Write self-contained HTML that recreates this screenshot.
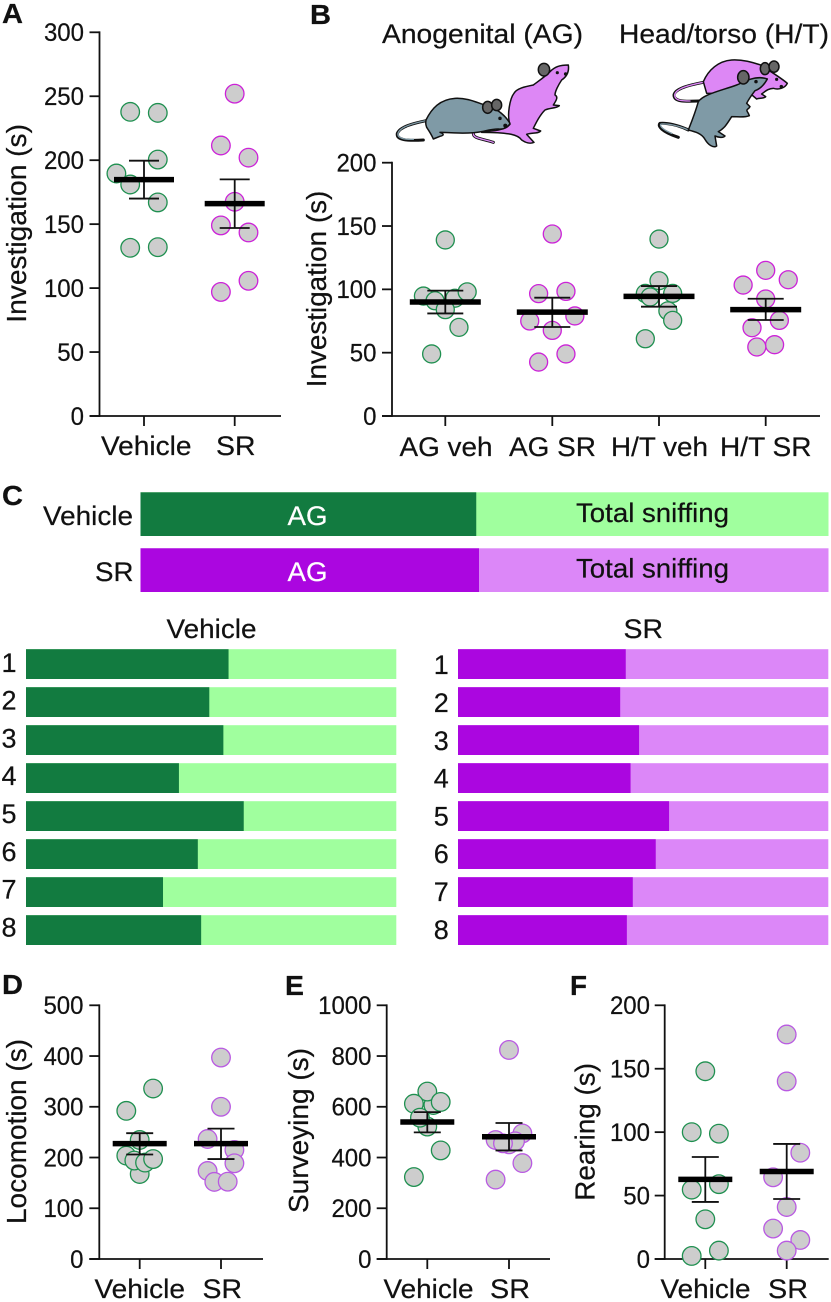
<!DOCTYPE html>
<html lang="en">
<head>
<meta charset="utf-8">
<title>Investigation and behavior panels</title>
<style>
html,body{margin:0;padding:0;background:#fff}
svg{display:block}
text{font-family:"Liberation Sans",Arial,sans-serif;fill:#111;stroke:#111;stroke-width:.22px}
.panel-letter{font-weight:700;font-size:28px}
</style>
</head>
<body>
<svg id="figure" xmlns="http://www.w3.org/2000/svg" width="831" height="1302" viewBox="0 0 831 1302">
  <rect width="831" height="1302" fill="#fff"/>
  <text class="panel-letter" x="2" y="23" textLength="21" lengthAdjust="spacingAndGlyphs">A</text>
  <text class="panel-letter" x="310" y="24" textLength="21" lengthAdjust="spacingAndGlyphs">B</text>
  <text class="panel-letter" x="2" y="505" textLength="21" lengthAdjust="spacingAndGlyphs">C</text>
  <text class="panel-letter" x="2" y="994" textLength="21" lengthAdjust="spacingAndGlyphs">D</text>
  <text class="panel-letter" x="285" y="995" textLength="19" lengthAdjust="spacingAndGlyphs">E</text>
  <text class="panel-letter" x="570" y="995" textLength="17" lengthAdjust="spacingAndGlyphs">F</text>

  <text x="382" y="43" font-size="26.5" textLength="201" lengthAdjust="spacingAndGlyphs">Anogenital (AG)</text>
  <text x="619" y="43" font-size="26.5" textLength="210" lengthAdjust="spacingAndGlyphs">Head/torso (H/T)</text>

  <g transform="translate(390 55) scale(0.3333)" stroke="#111" stroke-width="4.5" stroke-linejoin="round" stroke-linecap="round">
    <path d="M250 236C250 250 272 250 310 262" fill="none" stroke="#111" stroke-width="9"/>
    <path d="M250 236C250 250 272 250 310 262" fill="none" stroke="#dd87f5" stroke-width="4"/>
    <path fill="#dd87f5" d="M275 230C310 228 345 226 360 208C350 180 360 130 372 115C380 100 405 95 430 90C450 75 465 65 480 50C495 35 510 30 535 30C538 50 530 65 515 75C505 90 495 110 495 120C505 125 500 135 490 150L508 152C500 160 480 158 465 165C450 180 440 200 430 220L452 228C445 237 425 232 410 238L432 262C420 268 405 262 395 255C385 240 360 232 275 232Z"/>
    <ellipse cx="462" cy="44" rx="17" ry="19" fill="#666"/>
    <circle cx="502" cy="53" r="2.5" fill="#111"/>
    <circle cx="527" cy="57" r="3" fill="#111"/>
    <path d="M108 197C70 205 30 215 22 235C18 255 50 258 100 255" fill="none" stroke="#111" stroke-width="9"/>
    <path d="M108 197C70 205 30 215 24 235C21 250 45 254 70 253" fill="none" stroke="#7f9aa6" stroke-width="4"/>
    <path fill="#7f9aa6" d="M108 195C125 160 150 133 195 130C235 128 265 145 285 150C320 160 345 180 360 205C355 217 340 224 325 222C305 222 290 227 275 230C240 237 190 234 150 232C165 238 160 242 150 244L130 252C125 240 120 232 110 217C105 205 108 200 108 195Z"/>
    <ellipse cx="293" cy="157" rx="15" ry="18" fill="#666"/>
    <ellipse cx="320" cy="150" rx="15" ry="17" fill="#666"/>
    <circle cx="330" cy="190" r="3" fill="#111"/>
    <circle cx="346" cy="212" r="4" fill="#111"/>
  </g>

  <g transform="translate(650 50) scale(0.3333)" stroke="#111" stroke-width="4.5" stroke-linejoin="round" stroke-linecap="round">
    <path d="M160 97C120 105 75 115 72 135C72 155 100 155 148 153" fill="none" stroke="#111" stroke-width="9"/>
    <path d="M160 97C120 105 77 115 74 135C74 152 95 153 120 153" fill="none" stroke="#dd87f5" stroke-width="4"/>
    <path fill="#dd87f5" d="M160 95C175 60 205 33 245 30C280 28 310 38 332 45C370 70 395 85 412 100C405 115 385 120 370 115C355 115 345 125 335 132L347 140C340 147 328 143 320 147L300 130L170 130Z"/>
    <ellipse cx="345" cy="56" rx="14" ry="18" fill="#666"/>
    <ellipse cx="372" cy="50" rx="15" ry="17" fill="#666"/>
    <circle cx="380" cy="88" r="2.5" fill="#111"/>
    <circle cx="394" cy="110" r="3" fill="#111"/>
    <path d="M115 240C85 225 50 218 30 220C22 228 35 245 85 262" fill="none" stroke="#111" stroke-width="9"/>
    <path d="M115 240C85 226 50 220 33 222C27 228 40 240 65 250" fill="none" stroke="#7f9aa6" stroke-width="4"/>
    <path fill="#7f9aa6" d="M145 155C160 133 210 123 260 105C275 100 280 92 300 88C320 82 340 82 352 87C345 100 335 115 315 122C305 135 295 150 290 160L300 170C295 180 285 175 295 190L298 197C285 203 265 200 245 200C235 215 225 235 205 245L225 258C220 265 205 262 195 258L200 288C190 295 175 285 165 268C155 250 135 245 115 240C125 215 135 190 145 155Z"/>
    <ellipse cx="280" cy="82" rx="17" ry="20" fill="#666"/>
    <circle cx="318" cy="95" r="3" fill="#111"/>
  </g>

  <g id="charts"></g>
  <g id="stacked"></g>
</svg>

<script>
// Panel A
const panelACategories = ['Vehicle', 'SR'];
const panelATicks = [0, 50, 100, 150, 200, 250, 300];
const panelAVehicle = [237.8, 237, 189.6, 200.5, 181, 167, 131.5, 132];
const panelASR = [252, 211.5, 202, 167.5, 149, 143.5, 105.7, 97];
const panelAVehicleSlots = [-1, 1, -2, 1, -1, 1, -1, 1];
const panelASRSlots = [0, -1, 1, 0, -1, 1, 1, -1];
const panelAMeans = [184.8, 166];
const panelALow = [170, 147];
const panelAHigh = [199.6, 185];

// Panel B
const panelBCategories = ['AG veh', 'AG SR', 'H/T veh', 'H/T SR'];
const panelBTicks = [0, 50, 100, 150, 200];
const panelBAgVeh = [139, 94.7, 91, 93, 98, 84, 70, 49];
const panelBAgSR = [143.7, 96.6, 98.4, 79, 75, 67.6, 49, 42.6];
const panelBHtVeh = [139.7, 106.8, 96.8, 96.8, 94, 83, 75.5, 61];
const panelBHtSR = [115, 107.6, 103.4, 92.4, 75.5, 69.7, 56.3, 54.5];
const panelBAgVehSlots = [0, -1.6, -0.75, 0.7, 1.6, 0, 1, -1];
const panelBAgSRSlots = [0, -1, 1, 1.65, -1.65, 0, 1, -1];
const panelBHtVehSlots = [0, 0, -1, 1, -0.65, 0.65, 1, -1];
const panelBHtSRSlots = [0, 1.65, -1.65, 0, 1, -1, 0.65, -0.65];
const panelBMeans = [90, 82, 94.5, 84];
const panelBLow = [81, 70.3, 86.3, 75.8];
const panelBHigh = [99, 93.4, 102.6, 92.6];

// Panel D
const panelDCategories = ['Vehicle', 'SR'];
const panelDTicks = [0, 100, 200, 300, 400, 500];
const panelDVehicle = [336, 292, 234.6, 203.7, 167.5, 194, 190, 197];
const panelDSR = [397, 300, 236.5, 215, 188.6, 173.5, 152, 152.4];
const panelDVehicleSlots = [1, -1, 0, -1, 0, -0.4, 0.4, 1];
const panelDSRSlots = [0, 0, -1, 1, 1, -1, -0.5, 0.5];
const panelDMeans = [227.5, 227.5];
const panelDLow = [206, 197];
const panelDHigh = [248, 257];

// Panel E
const panelECategories = ['Vehicle', 'SR'];
const panelETicks = [0, 200, 400, 600, 800, 1000];
const panelEVehicle = [607, 660, 612, 619, 522, 557, 428, 323];
const panelESR = [824, 495, 469, 452, 464, 456, 378, 313];
const panelEVehicleSlots = [0.45, 0, -1, 1, 0, -0.55, 1, -1];
const panelESRSlots = [0, 1, -1, 0, 0.45, -0.45, 1, -1];
const panelEMeans = [540, 482];
const panelELow = [499, 428];
const panelEHigh = [579, 536];

// Panel F
const panelFCategories = ['Vehicle', 'SR'];
const panelFTicks = [0, 50, 100, 150, 200];
const panelFVehicle = [148, 100, 98.8, 59, 54.7, 31.3, 6.6, 2.4];
const panelFSR = [177, 140, 83.8, 64.4, 41, 24, 15, 6.6];
const panelFVehicleSlots = [0, -1, 1, 1, -1, 0, 1, -1];
const panelFSRSlots = [0, 0, 1, -1, 0, -1, 1, 0];
const panelFMeans = [62.8, 69];
const panelFLow = [45, 47.3];
const panelFHigh = [80.4, 90.7];

// Panel C (AG share of total sniffing, percent)
const summaryLabels = ['Vehicle', 'SR'];
const summaryShares = [48.8, 49.2];
const animalLabels = ['1', '2', '3', '4', '5', '6', '7', '8'];
const vehicleShares = [54.7, 49.5, 53.3, 41.3, 58.8, 46.4, 37, 47.3];
const srShares = [45.3, 43.8, 48.9, 46.6, 57, 53.4, 47.2, 45.6];

const NS = 'http://www.w3.org/2000/svg';
const GREEN = '#1f9050', MAG = '#cc22d8', LILAC = '#b95ae2';

function el(tag, attrs, parent, txt) {
  const n = document.createElementNS(NS, tag);
  for (const k in attrs) n.setAttribute(k, attrs[k]);
  if (txt !== undefined) n.textContent = txt;
  parent.appendChild(n);
  return n;
}

const panels = [
  { id: 'a', title: 'Investigation (s)', titleX: 26, titleSpan: [125, 322.7], axisX: 99.5, xEnd: 281, y0: 416, yTop: 32.3, max: 300,
    ticks: panelATicks, tickRight: 84, categories: panelACategories, centers: [144, 234.7], labelBase: 455,
    labelSpans: [[101, 90.5], [216, 39.5]], unit: 13.8, meanW: 60, capW: 30, r: 9.3, colors: [GREEN, MAG],
    groups: [[panelAVehicle, panelAVehicleSlots], [panelASR, panelASRSlots]], means: panelAMeans, low: panelALow, high: panelAHigh },
  { id: 'b', title: 'Investigation (s)', titleX: 326, titleSpan: [191.7, 387.3], axisX: 392, xEnd: 820, y0: 416, yTop: 162.7, max: 200,
    ticks: panelBTicks, tickRight: 376.5, categories: panelBCategories, centers: [445.3, 552.3, 659, 765.7], labelBase: 456,
    labelSpans: [[399.5, 93], [509, 87], [611, 97], [720, 91.5]], unit: 13.67, meanW: 71, capW: 36, r: 9, colors: [GREEN, MAG, GREEN, MAG],
    groups: [[panelBAgVeh, panelBAgVehSlots], [panelBAgSR, panelBAgSRSlots], [panelBHtVeh, panelBHtVehSlots], [panelBHtSR, panelBHtSRSlots]], means: panelBMeans, low: panelBLow, high: panelBHigh },
  { id: 'd', title: 'Locomotion (s)', titleX: 26, titleSpan: [1040, 1224], axisX: 99.3, xEnd: 263, y0: 1259, yTop: 1005.3, max: 500,
    ticks: panelDTicks, tickRight: 83.5, categories: panelDCategories, centers: [139.7, 221], labelBase: 1298,
    labelSpans: [[94.5, 90.5], [202.5, 39.5]], unit: 13.4, meanW: 54, capW: 27, r: 9.3, colors: [GREEN, LILAC],
    groups: [[panelDVehicle, panelDVehicleSlots], [panelDSR, panelDSRSlots]], means: panelDMeans, low: panelDLow, high: panelDHigh },
  { id: 'e', title: 'Surveying (s)', titleX: 308, titleSpan: [1049, 1213], axisX: 386.7, xEnd: 550, y0: 1259, yTop: 1005.3, max: 1000,
    ticks: panelETicks, tickRight: 371.5, categories: panelECategories, centers: [427.3, 509], labelBase: 1298,
    labelSpans: [[383.5, 90], [490, 40]], unit: 13.4, meanW: 54, capW: 27, r: 9.3, colors: [GREEN, LILAC],
    groups: [[panelEVehicle, panelEVehicleSlots], [panelESR, panelESRSlots]], means: panelEMeans, low: panelELow, high: panelEHigh },
  { id: 'f', title: 'Rearing (s)', titleX: 594.3, titleSpan: [1064, 1200.7], axisX: 664.7, xEnd: 828.7, y0: 1259, yTop: 1005.3, max: 200,
    ticks: panelFTicks, tickRight: 650, categories: panelFCategories, centers: [705.3, 786.7], labelBase: 1298,
    labelSpans: [[660.5, 90], [768, 40]], unit: 13.6, meanW: 54, capW: 27, r: 9.3, colors: [GREEN, LILAC],
    groups: [[panelFVehicle, panelFVehicleSlots], [panelFSR, panelFSRSlots]], means: panelFMeans, low: panelFLow, high: panelFHigh }
];

const chartsLayer = document.getElementById('charts');

panels.forEach(function (p) {
  const yOf = function (v) { return p.y0 - (v / p.max) * (p.y0 - p.yTop); };
  const g = el('g', {}, chartsLayer);
  
  

  const yAxis = el('line', { x1: p.axisX, x2: p.axisX, y1: p.yTop - 0.9, y2: p.y0 + 0.9, stroke: '#111', 'stroke-width': 1.8 }, g);
  
  

  const xAxis = el('line', { x1: p.axisX - 10, x2: p.xEnd, y1: p.y0, y2: p.y0, stroke: '#111', 'stroke-width': 1.8 }, g);
  
  

  p.ticks.forEach(function (t) {
    const y = yOf(t);
    const tick = el('line', { x1: p.axisX - 10, x2: p.axisX, y1: y, y2: y, stroke: '#111', 'stroke-width': 1.8 }, g);
    
    
    const tickText = String(t);
    const label = el('text', { x: p.tickRight, y: y + 8.8, 'font-size': 25, 'text-anchor': 'end', textLength: tickText.length * 13.35, lengthAdjust: 'spacingAndGlyphs' }, g, tickText);
    
    
  });

  const span = p.titleSpan[1] - p.titleSpan[0];
  const yTitle = el('text', { transform: 'translate(' + p.titleX + ' ' + p.titleSpan[1] + ') rotate(-90) scale(1 1.08)', 'font-size': 25.5, textLength: span + 1, lengthAdjust: 'spacingAndGlyphs' }, g, p.title);
  
  

  p.categories.forEach(function (cat, i) {
    const cx = p.centers[i];
    const tick = el('line', { x1: cx, x2: cx, y1: p.y0, y2: p.y0 + 10, stroke: '#111', 'stroke-width': 1.8 }, g);
    
    
    const lab = el('text', { x: p.labelSpans[i][0], y: p.labelBase, 'font-size': 26.5, textLength: p.labelSpans[i][1], lengthAdjust: 'spacingAndGlyphs' }, g, cat);
    
    

    const values = p.groups[i][0], slots = p.groups[i][1];
    values.forEach(function (v, j) {
      const dot = el('circle', { cx: cx + slots[j] * p.unit, cy: yOf(v), r: p.r, fill: '#cdcdcd', stroke: p.colors[i], 'stroke-width': 1.3 }, g);
      
      
    });

    const yLow = yOf(p.low[i]), yHigh = yOf(p.high[i]), yMean = yOf(p.means[i]);
    const stem = el('line', { x1: cx, x2: cx, y1: yHigh, y2: yLow, stroke: '#111', 'stroke-width': 1.8 }, g);
    
    
    const capHigh = el('line', { x1: cx - p.capW / 2, x2: cx + p.capW / 2, y1: yHigh, y2: yHigh, stroke: '#111', 'stroke-width': 1.8 }, g);
    
    
    const capLow = el('line', { x1: cx - p.capW / 2, x2: cx + p.capW / 2, y1: yLow, y2: yLow, stroke: '#111', 'stroke-width': 1.8 }, g);
    
    
    const meanLine = el('line', { x1: cx - p.meanW / 2, x2: cx + p.meanW / 2, y1: yMean, y2: yMean, stroke: '#000', 'stroke-width': 5.5 }, g);
    
    
  });
});

// Panel C
const stacked = document.getElementById('stacked');
const COLORS = { vehicle: ['#127b40', '#a0ff9e'], sr: ['#ab06e0', '#dc87f8'] };

function splitBar(x, width, y, height, share, pal, name) {
  const split = width * share / 100;
  const light = el('rect', { x: x, y: y, width: width, height: height, fill: pal[1] }, stacked);
  
  
  const dark = el('rect', { x: x, y: y, width: split, height: height, fill: pal[0] }, stacked);
  
  
}

summaryLabels.forEach(function (name, i) {
  const y = 492.3 + i * 56;
  const key = i === 0 ? 'vehicle' : 'sr';
  splitBar(140.5, 688, y, 43.7, summaryShares[i], COLORS[key], 'summary-' + key);
  const base = 525 + i * 56;
  const rowLabel = el('text', { x: i === 0 ? 43 : 95, y: base, 'font-size': 27, textLength: i === 0 ? 90 : 38.5, lengthAdjust: 'spacingAndGlyphs' }, stacked, name);
  
  
  const ag = el('text', { x: 287.5, y: base, 'font-size': 27, textLength: 40, lengthAdjust: 'spacingAndGlyphs', style: 'fill:#fff;stroke:#fff' }, stacked, 'AG');
  
  
  const total = el('text', { x: 576, y: 522 + i * 55.5, 'font-size': 27, textLength: 153, lengthAdjust: 'spacingAndGlyphs' }, stacked, 'Total sniffing');
  
  
});

const vehicleHeading = el('text', { x: 166.5, y: 638, 'font-size': 27, textLength: 90, lengthAdjust: 'spacingAndGlyphs' }, stacked, 'Vehicle');


const srHeading = el('text', { x: 623.5, y: 638, 'font-size': 27, textLength: 39.5, lengthAdjust: 'spacingAndGlyphs' }, stacked, 'SR');



animalLabels.forEach(function (label, i) {
  const y = 649.2 + i * 38;
  splitBar(26, 370.3, y, 29.8, vehicleShares[i], COLORS.vehicle, 'vehicle-animal-' + label);
  splitBar(458, 370.3, y, 29.8, srShares[i], COLORS.sr, 'sr-animal-' + label);
  const leftLabel = el('text', { x: 9, y: 671.8 + i * 37.8, 'font-size': 27, 'text-anchor': 'middle' }, stacked, label);
  
  
  const rightLabel = el('text', { x: 441.3, y: 674.2 + i * 37.8, 'font-size': 27, 'text-anchor': 'middle' }, stacked, label);
  
  
});
</script>
</body>
</html>
